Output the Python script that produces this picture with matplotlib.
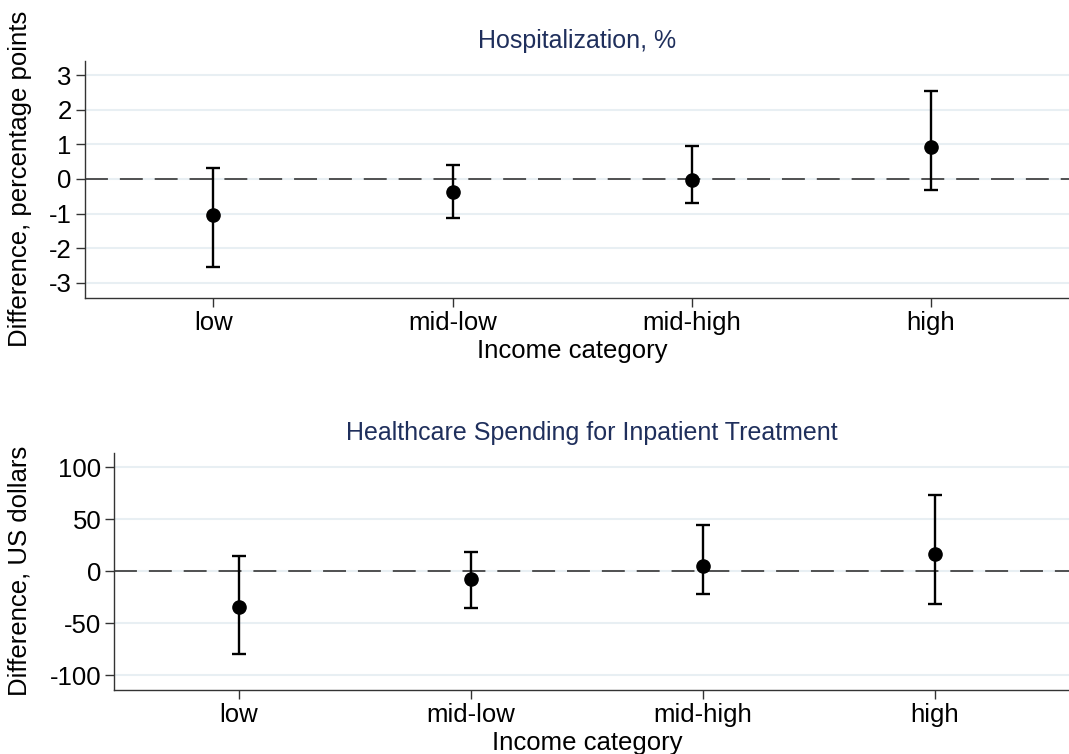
import matplotlib.pyplot as plt

plt.rcParams["font.family"] = ["Liberation Sans", "DejaVu Sans"]

# ---------------------------------------
# Estimates
# ---------------------------------------
categories = ["low", "mid-low", "mid-high", "high"]

hosp_est = [-1.05, -0.38, -0.03, 0.93]
hosp_lo = [-2.55, -1.13, -0.69, -0.33]
hosp_hi = [0.33, 0.40, 0.95, 2.54]
hosp_ticks = [-3, -2, -1, 0, 1, 2, 3]

spend_est = [-34.6, -7.4, 5.4, 16.9]
spend_lo = [-79.2, -35.6, -21.8, -31.7]
spend_hi = [14.7, 18.6, 44.2, 73.1]
spend_ticks = [-100, -50, 0, 50, 100]

TITLE_COLOR = "#1f2f5c"
GRID_COLOR = "#e8eff3"
AXIS_COLOR = "#333333"


def draw_panel(ax, est, lo, hi, ticks, ylim, title, ylabel, ylab_x):
    x = list(range(len(categories)))
    yerr = [[e - l for e, l in zip(est, lo)], [h - e for e, h in zip(est, hi)]]

    for t in ticks:
        ax.axhline(t, color=GRID_COLOR, lw=1.5, zorder=0)
    ax.axhline(0, color="#444444", lw=1.3, dashes=(12.7, 6.6), zorder=1)

    ax.errorbar(x, est, yerr=yerr, fmt="o", color="black", ms=9.5,
                elinewidth=1.7, capsize=5, capthick=1.7, zorder=3)

    ax.set_xlim(-0.537, 3.578)
    ax.set_ylim(*ylim)
    ax.set_xticks(x)
    ax.set_xticklabels(categories)
    ax.set_yticks(ticks)
    ax.set_yticklabels([str(t) for t in ticks])
    ax.tick_params(axis="both", labelsize=18.5, length=6.5, width=1,
                   color=AXIS_COLOR, pad=3)

    for side in ["top", "right"]:
        ax.spines[side].set_visible(False)
    for side in ["left", "bottom"]:
        ax.spines[side].set_color(AXIS_COLOR)
        ax.spines[side].set_linewidth(1.0)

    ax.set_title(title, color=TITLE_COLOR, fontsize=18, pad=9)
    ax.set_xlabel("Income category", fontsize=18.5)
    ax.xaxis.set_label_coords(0.495, -0.172)
    ax.set_ylabel(ylabel, fontsize=18.5)
    ax.yaxis.set_label_coords(ylab_x, 0.5)


fig = plt.figure(figsize=(10.69, 7.54), dpi=100)

ax1 = fig.add_axes([0.0795, 0.605, 0.9205, 0.3143])
draw_panel(ax1, hosp_est, hosp_lo, hosp_hi, hosp_ticks, (-3.43, 3.41),
           "Hospitalization, %", "Difference, percentage points", -0.054)

ax2 = fig.add_axes([0.107, 0.0849, 0.893, 0.3147])
draw_panel(ax2, spend_est, spend_lo, spend_hi, spend_ticks, (-114, 114),
           "Healthcare Spending for Inpatient Treatment",
           "Difference, US dollars", -0.0865)

fig.savefig("out.png", dpi=100)
plt.close(fig)
